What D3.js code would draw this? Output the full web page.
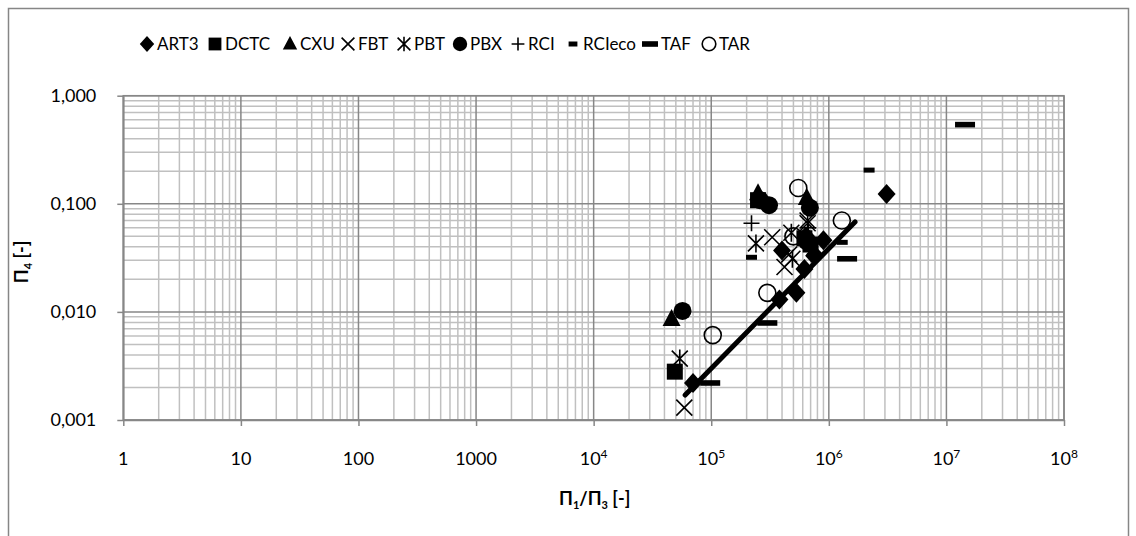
<!DOCTYPE html>
<html>
<head>
<meta charset="utf-8">
<script src="https://cdn.jsdelivr.net/npm/d3@7"></script>
<style>
body { margin: 0; background: #fff; }
svg text { font-family: Lato, "Open Sans", sans-serif; fill: #000; }
</style>
</head>
<body>
<svg id="chart" width="1136" height="536"></svg>
<script>
// series values: [Π1/Π3, Π4]
const art3 = [[7e4, 0.0022], [3.8e5, 0.013], [5.3e5, 0.015], [6.2e5, 0.025], [4e5, 0.037], [7.5e5, 0.033], [9e5, 0.046], [6.4e5, 0.05], [3.1e6, 0.123]];
const dctc = [[4.9e4, 0.0028], [2.5e5, 0.108], [6.2e5, 0.048], [7e5, 0.042]];
const cxu = [[4.6e4, 0.0086], [2.5e5, 0.125], [6.5e5, 0.113]];
const fbt = [[5.9e4, 0.0013], [3.3e5, 0.049], [4.2e5, 0.026], [4.6e5, 0.034], [6.6e5, 0.07], [7.6e5, 0.04]];
const pbt = [[5.4e4, 0.0037], [2.4e5, 0.043], [4.8e5, 0.054], [6.6e5, 0.066], [4.9e5, 0.031]];
const pbx = [[5.7e4, 0.0102], [2.6e5, 0.108], [3.1e5, 0.097], [6.9e5, 0.092], [6.5e5, 0.045]];
const rci = [[2.2e5, 0.066], [6.7e5, 0.06]];
const rcieco = [[2.2e5, 0.032], [1.3e6, 0.044], [2.2e6, 0.205]];
const taf = [[9.8e4, 0.0022], [3e5, 0.0079], [1.43e6, 0.031], [1.44e7, 0.54]];
const tar = [[1.03e5, 0.0061], [3e5, 0.015], [5.5e5, 0.14], [1.29e6, 0.07], [5e5, 0.05]];
const trend = [[6e4, 0.0017], [1.67e6, 0.068]];

const seriesNames = ["ART3", "DCTC", "CXU", "FBT", "PBT", "PBX", "RCI", "RCIeco", "TAF", "TAR"];
const seriesData = [art3, dctc, cxu, fbt, pbt, pbx, rci, rcieco, taf, tar];

// tick labels
const xTicks = [1, 10, 100, 1000, 1e4, 1e5, 1e6, 1e7, 1e8];
const xTickBase = ["1", "10", "100", "1000", "10", "10", "10", "10", "10"];
const xTickExp = ["", "", "", "", "4", "5", "6", "7", "8"];
const yTicks = [0.001, 0.01, 0.1, 1];
const yTickLabels = ["0,001", "0,010", "0,100", "1,000"];

const svg = d3.select("#chart");
const margin = { top: 95.7, right: 72, bottom: 116, left: 123.3 };
const width = +svg.attr("width") - margin.left - margin.right;
const height = +svg.attr("height") - margin.top - margin.bottom;

// outer chart border
svg.append("rect")
    .attr("x", 8.5).attr("y", 8.5)
    .attr("width", 1120).attr("height", 560)
    .attr("fill", "none")
    .attr("stroke", "#868686")
    .attr("stroke-width", 1.5);

const g = svg.append("g")
    .attr("transform", `translate(${margin.left}, ${margin.top})`);

const x = d3.scaleLog().domain([1, 1e8]).range([0, width]);
const y = d3.scaleLog().domain([0.001, 1]).range([height, 0]);

// minor grid
const xMinor = x.ticks().filter(v => !xTicks.includes(v));
const yMinor = y.ticks().filter(v => !yTicks.some(t => Math.abs(t - v) < 1e-12));

g.append("g").selectAll("line")
    .data(xMinor).enter().append("line")
    .attr("x1", d => x(d)).attr("x2", d => x(d))
    .attr("y1", 0).attr("y2", height)
    .attr("stroke", "#c0c0c0").attr("stroke-width", 1.5);
g.append("g").selectAll("line")
    .data(yMinor).enter().append("line")
    .attr("x1", 0).attr("x2", width)
    .attr("y1", d => y(d)).attr("y2", d => y(d))
    .attr("stroke", "#c0c0c0").attr("stroke-width", 1.5);

// major grid
g.append("g").selectAll("line")
    .data(xTicks).enter().append("line")
    .attr("x1", d => x(d)).attr("x2", d => x(d))
    .attr("y1", 0).attr("y2", height)
    .attr("stroke", "#878787").attr("stroke-width", 1.5);
g.append("g").selectAll("line")
    .data(yTicks).enter().append("line")
    .attr("x1", 0).attr("x2", width)
    .attr("y1", d => y(d)).attr("y2", d => y(d))
    .attr("stroke", "#878787").attr("stroke-width", 1.5);

// axes (ticks only, labels added by hand)
const xAxis = g.append("g")
    .attr("transform", `translate(0, ${height})`)
    .call(d3.axisBottom(x).tickValues(xTicks).tickFormat("").tickSize(6).tickSizeOuter(0));
const yAxis = g.append("g")
    .call(d3.axisLeft(y).tickValues(yTicks).tickFormat("").tickSize(6).tickSizeOuter(0));
[xAxis, yAxis].forEach(a => {
    a.select(".domain").attr("stroke", "#878787").attr("stroke-width", 1.5);
    a.selectAll(".tick line").attr("stroke", "#878787").attr("stroke-width", 1.5);
});
g.append("rect")
    .attr("width", width).attr("height", height)
    .attr("fill", "none").attr("stroke", "#878787").attr("stroke-width", 1.5);

// x tick labels
const xl = g.append("g").selectAll("text")
    .data(xTicks).enter().append("text")
    .attr("x", d => x(d))
    .attr("y", height + 45)
    .attr("text-anchor", "middle")
    .style("font-size", "18px");
xl.append("tspan").text((d, i) => xTickBase[i]);
xl.append("tspan")
    .attr("dy", "-0.55em")
    .style("font-size", "12px")
    .text((d, i) => xTickExp[i]);

// y tick labels
g.append("g").selectAll("text")
    .data(yTicks).enter().append("text")
    .attr("x", -27)
    .attr("y", d => y(d))
    .attr("dy", "0.35em")
    .attr("text-anchor", "end")
    .style("font-size", "18px")
    .text((d, i) => yTickLabels[i]);

// axis titles
const xt = svg.append("text")
    .attr("x", margin.left + width / 2 + 1)
    .attr("y", 505)
    .attr("text-anchor", "middle")
    .style("font-size", "18px")
    .style("font-weight", "bold");
xt.append("tspan").text("Π");
xt.append("tspan").attr("dy", 4).style("font-size", "11px").text("1");
xt.append("tspan").attr("dy", -4).text("/Π");
xt.append("tspan").attr("dy", 4).style("font-size", "11px").text("3");
xt.append("tspan").attr("dy", -4).text(" [-]");

const yt = svg.append("text")
    .attr("transform", `translate(28, ${margin.top + height / 2 + 4}) rotate(-90)`)
    .attr("text-anchor", "middle")
    .style("font-size", "18px")
    .style("font-weight", "bold");
yt.append("tspan").text("Π");
yt.append("tspan").attr("dy", 4).style("font-size", "11px").text("4");
yt.append("tspan").attr("dy", -4).text("  [-]");

// marker shapes
function drawMarker(sel, name, s) {
    const k = s || 1;
    if (name === "ART3") {
        sel.append("path").attr("d", `M0,${-10 * k}L${9 * k},0L0,${10 * k}L${-9 * k},0Z`).attr("fill", "#000");
    } else if (name === "DCTC") {
        sel.append("rect").attr("x", -8 * k).attr("y", -8 * k).attr("width", 16 * k).attr("height", 16 * k).attr("fill", "#000");
    } else if (name === "CXU") {
        sel.append("path").attr("d", `M0,${-10 * k}L${9 * k},${7 * k}L${-9 * k},${7 * k}Z`).attr("fill", "#000");
    } else if (name === "FBT") {
        sel.append("path").attr("d", `M${-8 * k},${-8 * k}L${8 * k},${8 * k}M${8 * k},${-8 * k}L${-8 * k},${8 * k}`)
            .attr("stroke", "#000").attr("stroke-width", 1.6).attr("fill", "none");
    } else if (name === "PBT") {
        sel.append("path").attr("d", `M${-8 * k},${-8 * k}L${8 * k},${8 * k}M${8 * k},${-8 * k}L${-8 * k},${8 * k}M0,${-9 * k}L0,${9 * k}`)
            .attr("stroke", "#000").attr("stroke-width", 1.6).attr("fill", "none");
    } else if (name === "PBX") {
        sel.append("circle").attr("r", 9 * k).attr("fill", "#000");
    } else if (name === "RCI") {
        sel.append("path").attr("d", `M${-8 * k},0L${8 * k},0M0,${-8 * k}L0,${8 * k}`)
            .attr("stroke", "#000").attr("stroke-width", 1.6).attr("fill", "none");
    } else if (name === "RCIeco") {
        sel.append("rect").attr("x", -5.5 * k).attr("y", -2.5).attr("width", 11 * k).attr("height", 5).attr("fill", "#000");
    } else if (name === "TAF") {
        sel.append("rect").attr("x", -10 * k).attr("y", -2.8).attr("width", 20 * k).attr("height", 5.6).attr("fill", "#000");
    } else if (name === "TAR") {
        sel.append("circle").attr("r", 8.5 * k).attr("fill", "none").attr("stroke", "#000").attr("stroke-width", 1.6);
    }
}

// data points
seriesNames.forEach((name, i) => {
    g.append("g").selectAll("g")
        .data(seriesData[i]).enter().append("g")
        .attr("transform", d => `translate(${x(d[0])}, ${y(d[1])})`)
        .each(function () { drawMarker(d3.select(this), name); });
});

// trend line
g.append("line")
    .attr("x1", x(trend[0][0])).attr("y1", y(trend[0][1]))
    .attr("x2", x(trend[1][0])).attr("y2", y(trend[1][1]))
    .attr("stroke", "#000").attr("stroke-width", 5).attr("stroke-linecap", "round");

// legend
const legendX = [147, 215, 290, 348, 404, 460, 518, 573, 650, 709];
const legend = svg.append("g").selectAll("g")
    .data(seriesNames).enter().append("g")
    .attr("transform", (d, i) => `translate(${legendX[i]}, 44)`);
legend.each(function (d) { drawMarker(d3.select(this), d, 0.8); });
legend.append("text")
    .attr("x", d => d === "TAF" ? 11 : 10)
    .attr("dy", "0.35em")
    .style("font-size", "17px")
    .text(d => d);
</script>
</body>
</html>
